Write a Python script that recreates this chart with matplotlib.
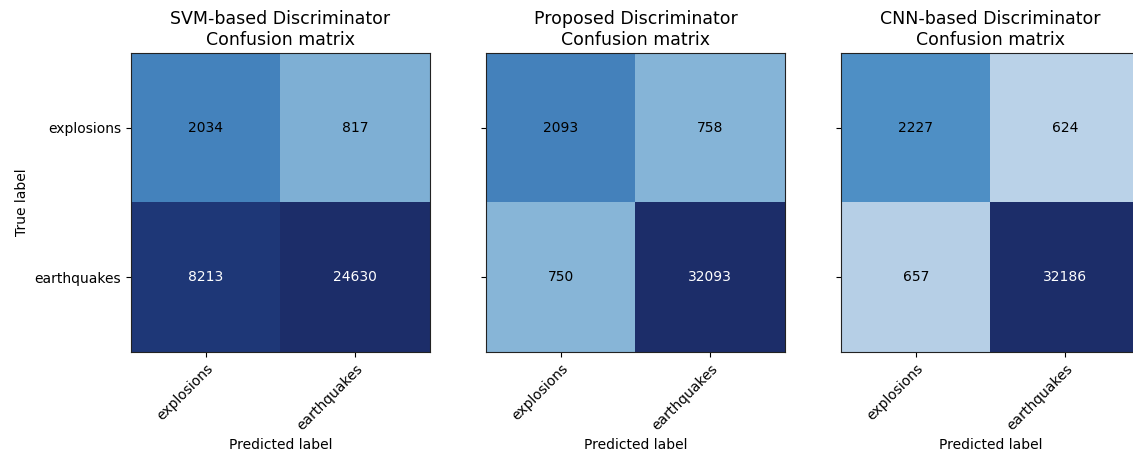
import numpy as np
import matplotlib
matplotlib.use("Agg")
import matplotlib.pyplot as plt
from matplotlib.colors import LinearSegmentedColormap, LogNorm

# ---- data ----
classes = ["explosions", "earthquakes"]
titles = ["SVM-based Discriminator", "Proposed Discriminator", "CNN-based Discriminator"]
cm_svm = [[2034, 817], [8213, 24630]]
cm_proposed = [[2093, 758], [750, 32093]]
cm_cnn = [[2227, 624], [657, 32186]]

# ---- style ----
cmap = LinearSegmentedColormap.from_list(
    "cmblues",
    [(0.00, "#bad2e8"), (0.10, "#88b6d8"), (0.25, "#4f90c6"),
     (0.36, "#4583bd"), (0.70, "#1f3b7b"), (0.78, "#1c2d69"),
     (1.00, "#1c2d69")])
norm_limits = [(500, 24630), (500, 24630), (624, 101000)]

fig = plt.figure(figsize=(11.33, 4.57), dpi=100)
W = 299 / 1133
H = 299 / 457
bottom = 1 - 352 / 457
lefts = [131 / 1133, 486 / 1133, 841 / 1133]

for i, (cm, title) in enumerate(zip([cm_svm, cm_proposed, cm_cnn], titles)):
    cm = np.array(cm)
    ax = fig.add_axes([lefts[i], bottom, W, H])
    norm = LogNorm(vmin=norm_limits[i][0], vmax=norm_limits[i][1], clip=True)
    ax.imshow(cm, interpolation="nearest", cmap=cmap, norm=norm, aspect="auto")
    ax.set_title(title + "\nConfusion matrix", fontsize=12.5)
    ticks = np.arange(len(classes))
    ax.set_xticks(ticks)
    ax.set_xticklabels(classes, rotation=45, ha="right", rotation_mode="anchor", fontsize=10)
    ax.set_yticks(ticks)
    if i == 0:
        ax.set_yticklabels(classes, fontsize=10)
        ax.set_ylabel("True label", fontsize=10)
    else:
        ax.set_yticklabels([])
    ax.set_xlabel("Predicted label", fontsize=10)
    for r in range(cm.shape[0]):
        for c in range(cm.shape[1]):
            val = cm[r, c]
            color = "white" if norm(val) > 0.5 else "black"
            ax.text(c, r, format(val, "d"), ha="center", va="center",
                    color=color, fontsize=10)
    for s in ax.spines.values():
        s.set_color("#222222")

fig.savefig("out.png", dpi=100)
